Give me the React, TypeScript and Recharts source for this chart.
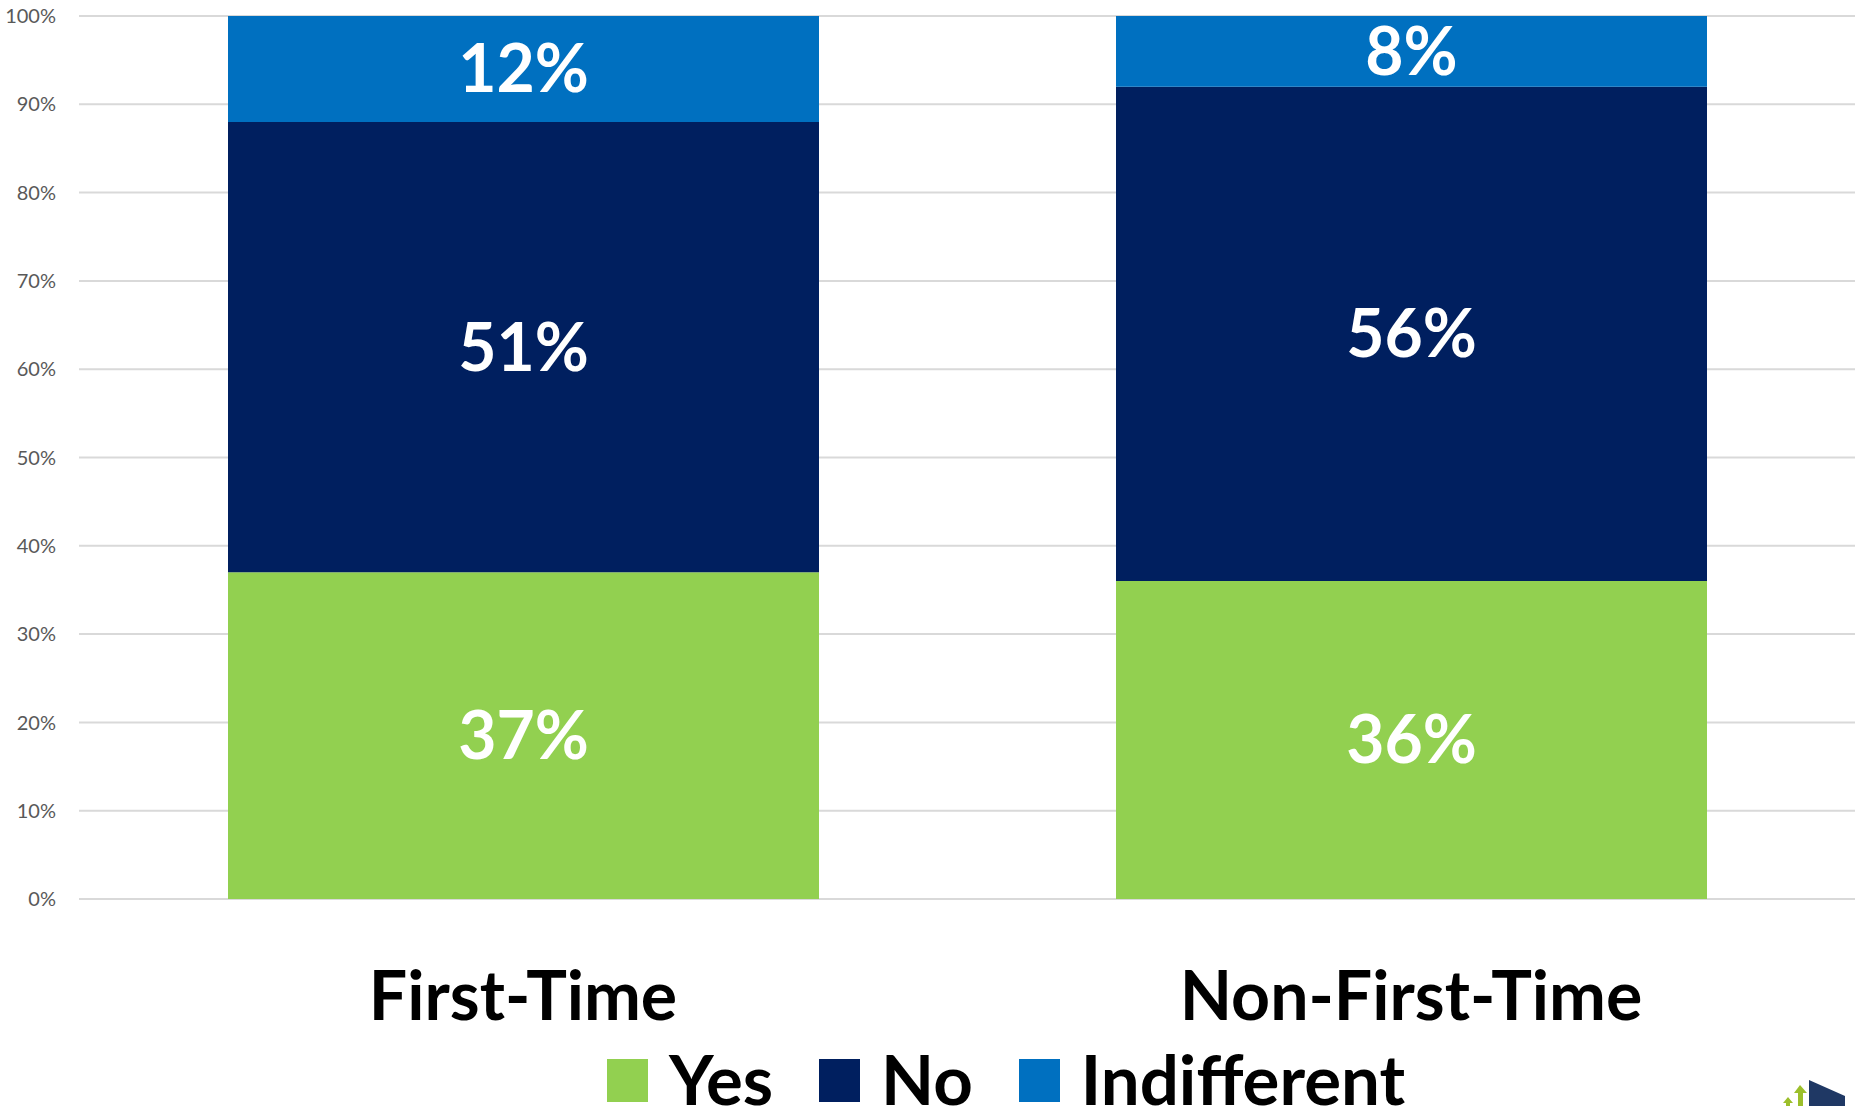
import { BarChart, Bar, XAxis, YAxis, CartesianGrid, Legend, LabelList } from 'recharts';

const categories = ['First-Time', 'Non-First-Time'];
const yesValues = [37, 36];
const noValues = [51, 56];
const indifferentValues = [12, 8];
const yTicks = [0, 10, 20, 30, 40, 50, 60, 70, 80, 90, 100];

const seriesInfo = [
  { key: 'yes', label: 'Yes', color: '#92D050' },
  { key: 'no', label: 'No', color: '#001F5F' },
  { key: 'indifferent', label: 'Indifferent', color: '#0070C0' },
];

const data = categories.map((name, i) => ({
  name,
  yes: yesValues[i],
  no: noValues[i],
  indifferent: indifferentValues[i],
}));

const FONT = 'Lato, "Open Sans", sans-serif';

function CategoryTick(props: any) {
  const { x, y, payload } = props;
  return (
    <text x={x} y={y + 121} textAnchor="middle" fill="#000" fontSize={68} fontWeight={700} fontFamily={FONT}>
      {payload.value}
    </text>
  );
}

function LegendContent() {
  return (
    <div style={{ display: 'flex', height: 72, alignItems: 'flex-start', fontFamily: FONT }}>
      {seriesInfo.map((s, i) => (
        <div key={s.key} style={{ display: 'flex', alignItems: 'flex-start', marginLeft: i === 0 ? 0 : 46 }}>
          <div style={{ width: 41, height: 43, marginTop: 25, background: s.color }} />
          <span
            style={{
              marginLeft: 21,
              fontSize: 69,
              fontWeight: 700,
              lineHeight: '72px',
              position: 'relative',
              top: 9,
              color: '#000',
              whiteSpace: 'nowrap',
            }}
          >
            {s.label}
          </span>
        </div>
      ))}
    </div>
  );
}

export default function App() {
  return (
    <div style={{ position: 'absolute', left: 0, top: 0, width: 1864, height: 1106, background: '#fff', overflow: 'hidden' }}>
      <BarChart
        width={1864}
        height={1106}
        data={data}
        margin={{ top: 16, right: 9, left: 0, bottom: 0 }}
        style={{ fontFamily: FONT }}
      >
        <CartesianGrid vertical={false} stroke="#D9D9D9" strokeWidth={2} />
        <XAxis
          dataKey="name"
          axisLine={false}
          tickLine={false}
          tickSize={0}
          tickMargin={0}
          height={135}
          tick={<CategoryTick />}
          interval={0}
        />
        <YAxis
          width={79}
          domain={[0, 100]}
          ticks={yTicks}
          axisLine={false}
          tickLine={false}
          tickSize={0}
          tickMargin={23}
          tickFormatter={(v) => `${v}%`}
          tick={{ fill: '#595959', fontSize: 20 }}
        />
        <Legend
          verticalAlign="bottom"
          content={<LegendContent />}
          wrapperStyle={{ left: 607, bottom: 0, width: 'auto' }}
        />
        {seriesInfo.map((s) => (
          <Bar key={s.key} dataKey={s.key} stackId="a" fill={s.color} barSize={591} isAnimationActive={false}>
            <LabelList
              dataKey={s.key}
              position="center"
              formatter={(v: any) => `${v}%`}
              fill="#fff"
              fontSize={66}
              fontWeight={700}
              fontFamily={FONT}
            />
          </Bar>
        ))}
      </BarChart>
      <svg width={90} height={40} style={{ position: 'absolute', left: 1774, top: 1066 }}>
        <polygon points="35,14 71,30 71,40 35,40" fill="#1F3864" />
        <polygon points="26,19 33,27 29,27 29,40 24,40 24,27 20,27" fill="#9CBF2B" />
        <polygon points="14,31 19,37 16,37 16,40 12,40 12,37 9,37" fill="#9CBF2B" />
      </svg>
    </div>
  );
}
